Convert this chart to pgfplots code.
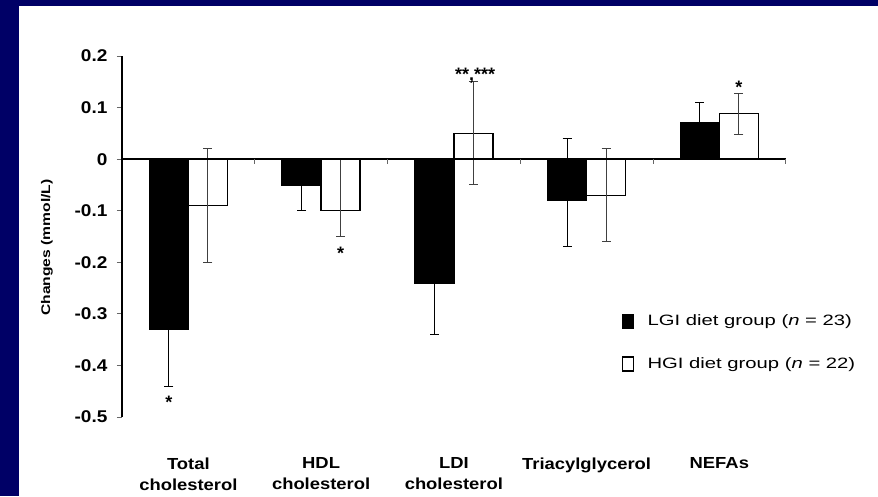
\documentclass[border=0pt]{standalone}
\usepackage{fontspec}
\usepackage{pgfplots}
\pgfplotsset{compat=1.18}
\setmainfont{Liberation Sans}
\newfontfamily\tickfont[FakeStretch=1.12]{Liberation Sans}
\newfontfamily\catfont[FakeStretch=1.15]{Liberation Sans}
\newfontfamily\legfont[FakeStretch=1.35]{Liberation Sans}
\newfontfamily\labfont[FakeStretch=1.25]{Liberation Sans}
\definecolor{slidebg}{RGB}{0,0,102}

\begin{document}
\begin{tikzpicture}[x=1pt,y=1pt]
% slide background
\fill[slidebg] (0,0) rectangle (878,496);
\fill[white] (19,0) rectangle (878,490.3);
\begin{axis}[
  at={(122pt,79pt)}, anchor=south west,
  scale only axis, width=663.7pt, height=361pt,
  xmin=-0.5, xmax=4.5, ymin=-0.5, ymax=0.2,
  clip=false,
  axis x line*=bottom, axis y line*=left,
  x axis line style={draw=none},
  y axis line style={line width=1.3pt, -},
  ybar=0pt, bar width=39pt,
  xtick={0,1,2,3,4},
  xticklabels={{Total\\cholesterol},{HDL\\cholesterol},{LDI\\cholesterol},{Triacylglycerol},{NEFAs}},
  x tick style={draw=none},
  xticklabel style={font=\catfont\bfseries\fontsize{16}{21}\selectfont, align=center, anchor=north, yshift=-32pt},
  ytick={-0.5,-0.4,-0.3,-0.2,-0.1,0,0.1,0.2},
  yticklabels={-0.5,-0.4,-0.3,-0.2,-0.1,0,0.1,0.2},
  tick align=outside, major tick length=5pt,
  y tick style={line width=0.8pt, black!60},
  yticklabel style={font=\tickfont\bfseries\fontsize{17}{19}\selectfont, xshift=-6pt},
  ylabel={Changes (mmol/L)},
  ylabel style={at={(axis description cs:-0.113,0.4695)}, anchor=center, font=\labfont\bfseries\fontsize{12.5}{14}\selectfont},
  legend style={at={(rel axis cs:0.753,0.29)}, anchor=north west, draw=none, fill=none,
    font=\legfont\fontsize{15}{18}\selectfont, row sep=27pt, inner sep=0pt},
  legend cell align=left,
]
% LGI diet group
\addplot[forget plot, bar shift=-19.5pt, fill=black, draw=black, line width=1.3pt,
  error bars/.cd, y dir=both, y explicit,
  error bar style={line width=1pt, black},
  error mark options={rotate=90, mark size=4.5pt, line width=1pt, black}]
coordinates {
  (0,-0.33) +- (0,0.11)
  (1,-0.05) +- (0,0.05)
  (2,-0.24) +- (0,0.10)
  (3,-0.08) += (0,0.12) -= (0,0.09)
  (4,0.07) +- (0,0.04)
};
% HGI diet group
\addplot[forget plot, bar shift=19.5pt, fill=white, draw=black, line width=1.3pt,
  error bars/.cd, y dir=both, y explicit,
  error bar style={line width=1pt, black!75},
  error mark options={rotate=90, mark size=4.5pt, line width=1pt, black!75}]
coordinates {
  (0,-0.09) +- (0,0.11)
  (1,-0.10) += (0,0.10) -= (0,0.05)
  (2,0.05) +- (0,0.10)
  (3,-0.07) +- (0,0.09)
  (4,0.088) +- (0,0.04)
};
\addlegendimage{legend image code/.code={\fill[black] (0pt,-7pt) rectangle (11pt,7pt); \path[draw=none, fill=none] (0pt,-0.1pt) rectangle (23pt,0.1pt);}}
\addlegendentry{LGI diet group (\textit{n} = 23)}
\addlegendimage{legend image code/.code={\draw[fill=white, draw=black, line width=1.2pt] (0pt,-7pt) rectangle (11pt,7pt); \path[draw=none, fill=none] (0pt,-0.1pt) rectangle (23pt,0.1pt);}}
\addlegendentry{HGI diet group (\textit{n} = 22)}
% zero line and category separators
\draw[line width=1.5pt] (axis cs:-0.5,0) -- (axis cs:4.5,0);
\pgfplotsinvokeforeach{0.5,1.5,2.5,3.5,4.5}{
  \draw[black!60, line width=0.8pt] (axis cs:#1,0) -- ([yshift=-5pt]axis cs:#1,0);
}
% significance marks
\node[font=\bfseries\fontsize{18}{18}\selectfont, yshift=-4pt] at (axis cs:-0.147,-0.464) {*};
\node[font=\bfseries\fontsize{18}{18}\selectfont, yshift=-4pt] at (axis cs:1.147,-0.175) {*};
\node[font=\bfseries\fontsize{18}{18}\selectfont, yshift=-4pt] at (axis cs:2.16,0.17) {**,***};
\node[font=\bfseries\fontsize{18}{18}\selectfont, yshift=-4pt] at (axis cs:4.147,0.147) {*};
\end{axis}
\end{tikzpicture}
\end{document}
